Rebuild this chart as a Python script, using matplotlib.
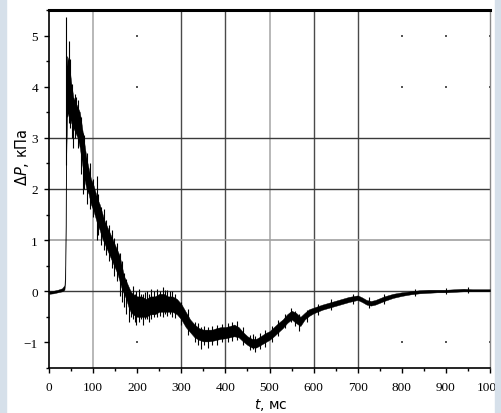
import numpy as np
import matplotlib
matplotlib.use("Agg")
import matplotlib.pyplot as plt
from matplotlib.patches import Rectangle

# envelope of the noisy pressure trace (t in ms, dP in kPa)
t_env = [0, 10, 20, 30, 35, 37, 39, 41, 45, 50, 55, 60, 65, 70, 75, 80, 85, 90, 95,
         100, 105, 110, 115, 120, 125, 130, 135, 140, 145, 150, 155, 160, 165, 170,
         175, 180, 185, 190, 200, 210, 220, 230, 240, 250, 260, 270, 280, 290, 300,
         310, 320, 330, 340, 350, 360, 370, 380, 390, 400, 410, 420, 430, 440, 450,
         460, 470, 480, 490, 500, 510, 520, 530, 540, 550, 560, 570, 580, 590, 600,
         620, 640, 660, 680, 700, 710, 720, 730, 740, 760, 780, 800, 820, 840, 860,
         880, 900, 920, 940, 960, 980, 1000]
dp_lo = [-0.05, -0.04, -0.02, 0.0, 0.03, 0.2, 2.6, 3.4, 3.5, 3.3, 3.2, 3.1, 3.0, 2.8,
         2.5, 2.2, 2.0, 1.9, 1.7, 1.6, 1.45, 1.3, 1.2, 1.05, 0.95, 0.85, 0.75, 0.65,
         0.55, 0.45, 0.35, 0.2, 0.05, -0.05, -0.15, -0.3, -0.4, -0.45, -0.5, -0.5,
         -0.5, -0.45, -0.45, -0.4, -0.4, -0.4, -0.4, -0.45, -0.55, -0.7, -0.8, -0.9,
         -0.95, -0.98, -0.98, -0.97, -0.95, -0.93, -0.92, -0.9, -0.88, -0.9, -0.98,
         -1.05, -1.1, -1.1, -1.05, -1.0, -0.95, -0.88, -0.8, -0.72, -0.62, -0.55,
         -0.62, -0.68, -0.55, -0.48, -0.43, -0.36, -0.31, -0.26, -0.21, -0.17, -0.21,
         -0.26, -0.28, -0.26, -0.19, -0.13, -0.09, -0.06, -0.04, -0.03, -0.02, -0.02,
         -0.01, 0.0, 0.0, 0.0, 0.0]
dp_hi = [0.0, 0.01, 0.03, 0.06, 0.12, 0.5, 4.3, 4.6, 4.5, 4.1, 3.8, 3.7, 3.6, 3.5,
         3.2, 2.9, 2.6, 2.4, 2.2, 2.1, 1.95, 1.8, 1.7, 1.55, 1.4, 1.3, 1.2, 1.1, 1.0,
         0.9, 0.8, 0.7, 0.5, 0.3, 0.2, 0.1, 0.0, -0.05, -0.1, -0.1, -0.15, -0.1, -0.1,
         -0.05, -0.05, -0.1, -0.1, -0.15, -0.25, -0.4, -0.55, -0.65, -0.72, -0.75,
         -0.75, -0.75, -0.72, -0.7, -0.7, -0.68, -0.65, -0.7, -0.8, -0.88, -0.93,
         -0.93, -0.88, -0.82, -0.78, -0.7, -0.62, -0.55, -0.45, -0.38, -0.42, -0.5,
         -0.42, -0.35, -0.32, -0.26, -0.21, -0.16, -0.11, -0.08, -0.12, -0.17, -0.19,
         -0.17, -0.1, -0.05, -0.02, 0.0, 0.02, 0.03, 0.03, 0.03, 0.04, 0.05, 0.04,
         0.04, 0.04]

# individual spikes: time, low, high
spike_t = [39, 45, 48, 52, 55, 58, 62, 66, 72, 76, 80, 86, 92, 100, 108, 112, 118,
           124, 130, 136, 142, 148, 155, 160, 165, 170, 175, 182, 186, 190, 194, 198,
           205, 209, 213, 218, 222, 227, 232, 238, 245, 252, 258, 263, 268, 274, 280,
           286, 300, 315, 330, 338, 345, 352, 360, 370, 380, 392, 405, 415, 426, 440,
           455, 462, 468, 478, 490, 505, 520, 535, 548, 558, 568, 585, 610, 640, 690,
           725, 760, 830, 900, 950]
spike_lo = [2.47, 3.3, 3.2, 3.0, 2.8, 3.0, 3.1, 2.8, 2.3, 1.9, 2.0, 1.7, 1.6, 1.45,
            1.0, 1.1, 0.9, 0.8, 0.7, 0.6, 0.45, 0.3, 0.2, -0.1, -0.2, -0.3, -0.45,
            -0.6, -0.5, -0.55, -0.6, -0.65, -0.6, -0.55, -0.65, -0.55, -0.55, -0.6,
            -0.55, -0.5, -0.5, -0.48, -0.5, -0.45, -0.48, -0.45, -0.5, -0.52, -0.65,
            -0.85, -1.0, -1.05, -1.12, -1.05, -1.1, -1.05, -1.05, -1.0, -1.0, -0.98,
            -0.95, -1.05, -1.15, -1.12, -1.18, -1.12, -1.08, -1.0, -0.88, -0.72, -0.6,
            -0.68, -0.78, -0.6, -0.47, -0.36, -0.24, -0.32, -0.25, -0.1, -0.05, -0.03]
spike_hi = [5.37, 4.9, 4.55, 4.05, 3.7, 3.85, 3.8, 3.75, 3.4, 3.1, 3.05, 2.7, 2.5,
            2.2, 2.25, 1.9, 1.65, 1.6, 1.4, 1.3, 1.2, 1.05, 0.95, 0.75, 0.6, 0.35,
            0.25, 0.05, -0.05, 0.1, -0.05, 0.0, 0.05, -0.05, -0.05, -0.02, 0.0,
            -0.05, 0.05, 0.0, 0.05, 0.0, 0.08, 0.02, 0.03, 0.0, 0.0, -0.05, -0.2,
            -0.35, -0.6, -0.62, -0.7, -0.68, -0.7, -0.68, -0.65, -0.64, -0.62, -0.6,
            -0.58, -0.7, -0.85, -0.84, -0.88, -0.82, -0.76, -0.68, -0.57, -0.45,
            -0.33, -0.38, -0.45, -0.36, -0.25, -0.15, -0.05, -0.12, -0.05, 0.04, 0.07,
            0.08]

x_ticks = [0, 100, 200, 300, 400, 500, 600, 700, 800, 900, 1000]
y_ticks = [-1, 0, 1, 2, 3, 4, 5]
grid_x_dark = [300, 400, 600, 700]
grid_x_light = [100, 500]
grid_y_dark = [0, 2, 3]
grid_y_light = [1]
dot_x = [200, 800, 900, 1000]
dot_y = [5, 4, -1]

plt.rcParams['font.family'] = ['Liberation Serif', 'DejaVu Serif']
plt.rcParams['mathtext.fontset'] = 'dejavusans'

fig = plt.figure(figsize=(5.01, 4.14), dpi=100)
ax = fig.add_axes([49 / 501, 45 / 414, 441 / 501, 358 / 414])

# grid remnants
for x in grid_x_dark:
    ax.axvline(x, color='#4a4a4a', lw=1.0, zorder=1)
for x in grid_x_light:
    ax.axvline(x, color='#ababab', lw=1.2, zorder=1)
for y in grid_y_dark:
    ax.axhline(y, color='#3a3a3a', lw=1.0, zorder=1)
for y in grid_y_light:
    ax.axhline(y, color='#a0a0a0', lw=1.2, zorder=1)
dx, dy = np.meshgrid(dot_x, dot_y)
ax.scatter(dx.ravel(), dy.ravel(), s=1.2, color='#555555', marker='s', lw=0, zorder=1)

# trace
ax.fill_between(t_env, dp_lo, dp_hi, color='black', lw=0.3, edgecolor='black', zorder=3)
ax.vlines(spike_t, spike_lo, spike_hi, color='black', lw=0.8, zorder=3)

ax.set_xlim(0, 1000)
ax.set_ylim(-1.5, 5.5)
ax.set_xticks(x_ticks)
ax.set_yticks(y_ticks)
ax.set_xticks(np.arange(50, 1000, 100), minor=True)
ax.set_yticks(np.arange(-1.5, 5.6, 1.0), minor=True)
ax.tick_params(axis='both', which='major', direction='out', length=3.6, width=1,
               labelsize=9.5)
ax.tick_params(axis='both', which='minor', direction='out', length=2.5, width=1)
ax.tick_params(axis='x', which='major', pad=6)
ax.tick_params(axis='y', which='major', pad=4.3)

ax.spines['top'].set_linewidth(2.2)
ax.spines['left'].set_linewidth(1.2)
ax.spines['bottom'].set_linewidth(1.2)
ax.spines['right'].set_color('#888888')
ax.spines['right'].set_linewidth(1.0)

fig.text(22 / 501, 1 - 157 / 414, r'$\Delta P$, кПа', rotation=90, ha='center',
         va='center', fontsize=10.5, family='DejaVu Sans')
fig.text(271 / 501, 1 - 405 / 414, r'$t$, мс', ha='center', va='center',
         fontsize=10, family='DejaVu Sans')

# light side strips of the page
strip = '#d6e0ea'
fig.add_artist(Rectangle((0, 0), 6 / 501, 1, transform=fig.transFigure,
                         color=strip, zorder=10))
fig.add_artist(Rectangle((495 / 501, 0), 6 / 501, 1, transform=fig.transFigure,
                         color=strip, zorder=10))

fig.savefig('out.png', dpi=100)
